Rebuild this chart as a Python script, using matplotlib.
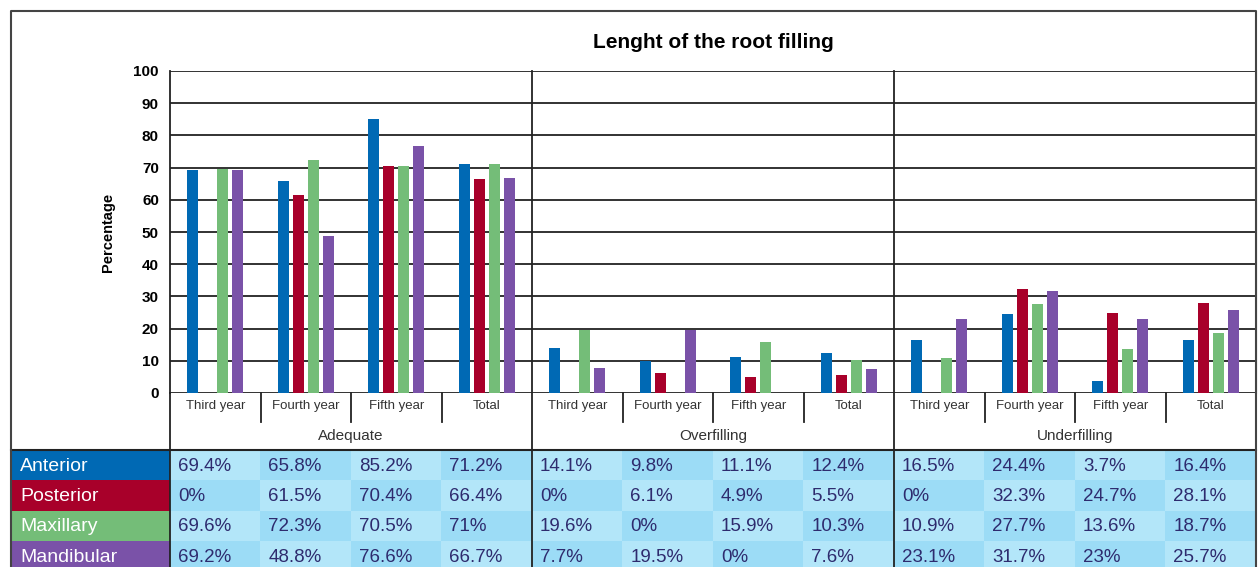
"""
Bar chart of root filling length by year, with a data table underneath.
"""

# ===============================================
# import
# ===============================================
import matplotlib
matplotlib.use('Agg')
import matplotlib.pyplot as plt
import matplotlib.transforms as mtransforms
from matplotlib.patches import Rectangle
import numpy as np

# ===============================================
# data
# ===============================================
title = 'Lenght of the root filling'
groups = ['Adequate', 'Overfilling', 'Underfilling']
years = ['Third year', 'Fourth year', 'Fifth year', 'Total']
series = ['Anterior', 'Posterior', 'Maxillary', 'Mandibular']
colors = ['#0069b4', '#a8002a', '#74bd78', '#7a52a8']

# values per series, 12 columns: (group, year)
anterior = [69.4, 65.8, 85.2, 71.2, 14.1, 9.8, 11.1, 12.4, 16.5, 24.4, 3.7, 16.4]
posterior = [0, 61.5, 70.4, 66.4, 0, 6.1, 4.9, 5.5, 0, 32.3, 24.7, 28.1]
maxillary = [69.6, 72.3, 70.5, 71, 19.6, 0, 15.9, 10.3, 10.9, 27.7, 13.6, 18.7]
mandibular = [69.2, 48.8, 76.6, 66.7, 7.7, 19.5, 0, 7.6, 23.1, 31.7, 23, 25.7]

yticks = [0, 10, 20, 30, 40, 50, 60, 70, 80, 90, 100]

# ===============================================
# layout (pixels of a 1259 x 567 figure)
# ===============================================
W, H = 1259, 567
frame_left, frame_top = 11, 11
plot_left, plot_right = 170, 1256
plot_top, plot_bottom = 71, 393
table_top, row_h = 450, 30.3
line_col = '#222222'

plt.rcParams['font.family'] = ['Liberation Sans', 'DejaVu Sans']

fig = plt.figure(figsize=(W / 100, H / 100), dpi=100)

def fx(px):
    return px / W

def fy(py):
    return 1 - py / H

ncols = len(anterior)
unit = (plot_right - plot_left) / ncols

ax = fig.add_axes([fx(plot_left), fy(plot_bottom), fx(plot_right - plot_left),
                   (plot_bottom - plot_top) / H])

data = [anterior, posterior, maxillary, mandibular]
x = np.arange(ncols)
step = 15 / unit
bw = 11 / unit
for i, (vals, c) in enumerate(zip(data, colors)):
    ax.bar(x + (i - 1.5) * step, vals, width=bw, color=c, zorder=3)

ax.set_xlim(-0.5, ncols - 0.5)
ax.set_ylim(0, 100)
ax.set_yticks(yticks)
ax.set_yticklabels([str(t) for t in yticks], fontsize=11, fontweight='bold')
ax.tick_params(axis='y', length=0, pad=8)
ax.set_xticks([])
for y in yticks:
    ax.axhline(y, color=line_col, lw=1.3, zorder=2)
for s in ['top', 'bottom']:
    ax.spines[s].set_visible(False)
ax.spines['left'].set_color(line_col)
ax.spines['left'].set_linewidth(1.3)
ax.spines['right'].set_color('#444444')
ax.spines['right'].set_linewidth(1.5)

ax.set_ylabel('Percentage', fontsize=10.5, fontweight='bold')
ax.yaxis.set_label_coords((115 - plot_left) / (plot_right - plot_left), 0.5)

fig.text(fx((plot_left + plot_right) / 2), fy(42), title, fontsize=15,
         fontweight='bold', ha='center', va='center')

# category / group labels under the axis
trans = mtransforms.blended_transform_factory(ax.transData, fig.transFigure)
ny = len(years)
for k in range(ncols):
    ax.text(k, fy(406), years[k % ny], transform=trans, ha='center', va='center',
            fontsize=9.5, color='#333333')
for g, name in enumerate(groups):
    ax.text(g * ny + (ny - 1) / 2, fy(436), name, transform=trans, ha='center',
            va='center', fontsize=11, color='#333333')

# separators
for k in range(1, ncols):
    xb = k - 0.5
    if k % ny == 0:
        ax.plot([xb, xb], [fy(plot_top), 0], transform=trans, color=line_col,
                lw=1.3, clip_on=False, zorder=5)
    else:
        ax.plot([xb, xb], [fy(plot_bottom), fy(422)], transform=trans,
                color=line_col, lw=1.3, clip_on=False)
# axis line down to the table
ax.plot([-0.5, -0.5], [fy(plot_bottom), fy(table_top)], transform=trans,
        color=line_col, lw=1.3, clip_on=False)

# ===============================================
# table
# ===============================================
tax = fig.add_axes([0, 0, 1, 1], zorder=-1)
tax.set_xlim(0, W)
tax.set_ylim(H, 0)
tax.axis('off')

cell_light = '#b3e6f9'
cell_dark = '#9cdcf6'
for r, (name, vals, c) in enumerate(zip(series, data, colors)):
    y0 = table_top + r * row_h
    tax.add_patch(Rectangle((frame_left, y0), plot_left - frame_left, row_h,
                            color=c, lw=0))
    tax.text(frame_left + 9, y0 + row_h / 2 + 1, name, color='white',
             fontsize=14, va='center', ha='left')
    for k, v in enumerate(vals):
        x0 = plot_left + k * unit
        fill = cell_light if (r + k) % 2 == 0 else cell_dark
        tax.add_patch(Rectangle((x0, y0), unit, row_h, color=fill, lw=0))
        tax.text(x0 + 8, y0 + row_h / 2 + 1, '%g%%' % v, color='#2e2b6e',
                 fontsize=13.5, va='center', ha='left')

# table lines
tax.plot([frame_left, plot_right], [table_top, table_top], color=line_col, lw=1.5)
tax.plot([plot_left, plot_left], [table_top, H], color=line_col, lw=1.3)

# outer frame
tax.plot([frame_left, frame_left, plot_right, plot_right],
         [H, frame_top, frame_top, H], color='#444444', lw=1.5)

fig.savefig('out.png', dpi=100)
